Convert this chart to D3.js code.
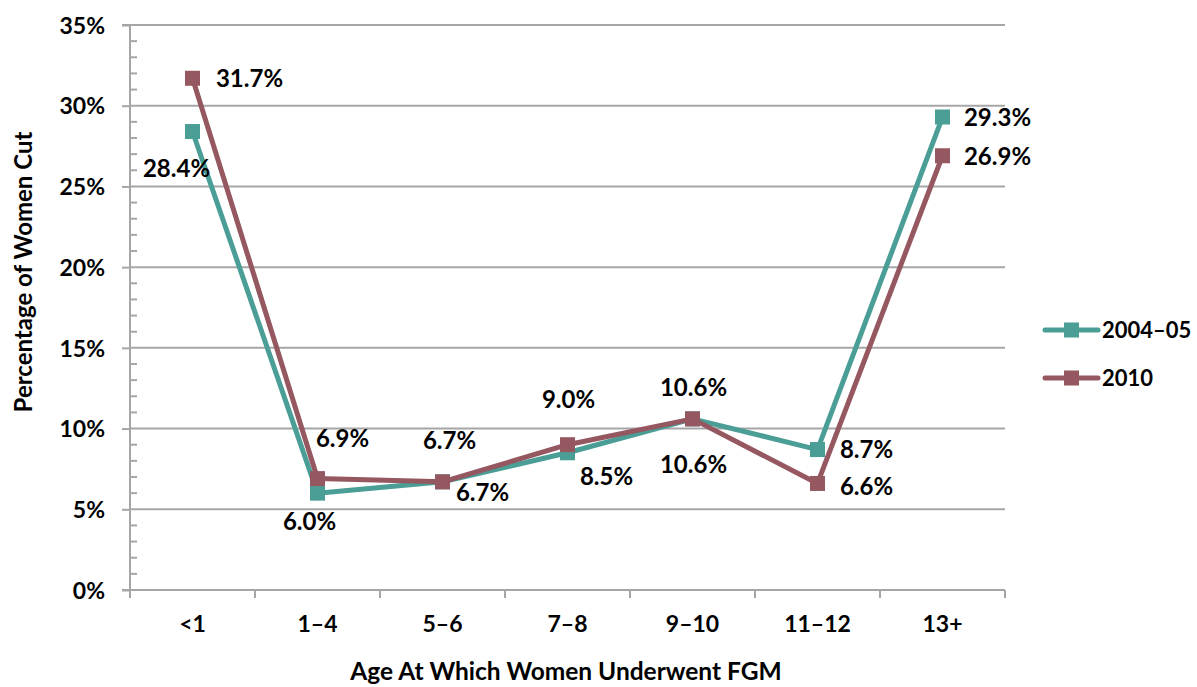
<!DOCTYPE html>
<html><head><meta charset="utf-8">
<script src="https://cdn.jsdelivr.net/npm/d3@7"></script>
<style>body{margin:0;background:#fff;} text{font-family:Lato,"Open Sans",sans-serif;font-weight:bold;fill:#000;}</style>
</head><body>
<svg id="c" width="1197" height="687"></svg>
<script>
const categories = ["<1","1–4","5–6","7–8","9–10","11–12","13+"];
const series2004 = [28.4,6.0,6.7,8.5,10.6,8.7,29.3];
const series2010 = [31.7,6.9,6.7,9.0,10.6,6.6,26.9];
const seriesNames = ["2004–05","2010"];
const yTicks = [0,5,10,15,20,25,30,35];

// label placement offsets (layout only)
const labelOffsets2004 = [[-16,37],[-8,28],[40,11],[39,24],[1,45],[49,0],[55,0]];
const labelOffsets2010 = [[57,0],[25,-40],[7,-41],[1,-45],[1,-32],[49,3],[55,1]];

const colors = ["#4A9E96","#955760"];
const svg = d3.select("#c");
const m = {l:130, r:1005, t:25, b:590};
const x = d3.scaleBand().domain(categories).range([m.l,m.r]).padding(0);
const y = d3.scaleLinear().domain([0,35]).range([m.b,m.t]);
const cx = d => x(d) + x.bandwidth()/2;

// gridlines
svg.append("g").selectAll("line").data(yTicks.filter(t=>t>0)).join("line")
  .attr("x1",m.l).attr("x2",m.r).attr("y1",d=>y(d)).attr("y2",d=>y(d))
  .attr("stroke","#a6a6a6").attr("stroke-width",2);

// minor ticks
svg.append("g").selectAll("line").data(d3.range(0,36).filter(v=>v%5!==0)).join("line")
  .attr("x1",m.l).attr("x2",m.l+7).attr("y1",d=>y(d)).attr("y2",d=>y(d))
  .attr("stroke","#a6a6a6").attr("stroke-width",2);

// y axis
const yAxis = d3.axisLeft(y).tickValues(yTicks).tickFormat(d=>d+"%").tickSize(8).tickPadding(17);
const gy = svg.append("g").attr("transform",`translate(${m.l},0)`).call(yAxis);
gy.select(".domain").attr("stroke","#a6a6a6").attr("stroke-width",2).attr("d",`M-8,${m.t}H0V${m.b}H-8`);
gy.selectAll(".tick line").attr("stroke","#a6a6a6").attr("stroke-width",2);
gy.selectAll(".tick text").style("font-size","23px").style("font-family","Lato").style("font-weight","bold").attr("fill","#000").attr("dy","0.36em");

// x axis
const gx = svg.append("g").attr("transform",`translate(0,${m.b})`);
gx.append("line").attr("x1",m.l).attr("x2",m.r).attr("stroke","#a6a6a6").attr("stroke-width",2);
const bounds = categories.map(c=>x(c)).concat([m.r]);
gx.selectAll("line.t").data(bounds).join("line").attr("class","t")
  .attr("x1",d=>d).attr("x2",d=>d).attr("y1",0).attr("y2",8).attr("stroke","#a6a6a6").attr("stroke-width",2);
gx.selectAll("text").data(categories).join("text")
  .attr("x",d=>cx(d)).attr("y",42).attr("text-anchor","middle").style("font-size","23px").text(d=>d);

// axis titles
svg.append("text").attr("transform","translate(32,272) rotate(-90)").attr("text-anchor","middle")
  .style("font-size","24px").text("Percentage of Women Cut");
svg.append("text").attr("x",566).attr("y",680).attr("text-anchor","middle")
  .style("font-size","24.5px").text("Age At Which Women Underwent FGM");

const allSeries = [series2004, series2010];
const allOffsets = [labelOffsets2004, labelOffsets2010];
const line = d3.line().x((d,i)=>cx(categories[i])).y(d=>y(d));

allSeries.forEach((s,k)=>{
  svg.append("path").datum(s).attr("d",line).attr("fill","none")
    .attr("stroke",colors[k]).attr("stroke-width",5).attr("stroke-linejoin","round");
  svg.append("g").selectAll("rect").data(s).join("rect")
    .attr("x",(d,i)=>cx(categories[i])-7.5).attr("y",d=>y(d)-7.5).attr("width",15).attr("height",15)
    .attr("fill",colors[k]);
});
allSeries.forEach((s,k)=>{
  svg.append("g").selectAll("text").data(s).join("text")
    .attr("x",(d,i)=>cx(categories[i])+allOffsets[k][i][0])
    .attr("y",(d,i)=>y(d)+allOffsets[k][i][1])
    .attr("dy","0.36em").attr("text-anchor","middle").style("font-size","24px")
    .text(d=>d.toFixed(1)+"%");
});

// legend
const lg = svg.append("g");
seriesNames.forEach((n,k)=>{
  const ly = 330 + k*48;
  lg.append("line").attr("x1",1045).attr("x2",1098).attr("y1",ly).attr("y2",ly)
    .attr("stroke",colors[k]).attr("stroke-width",5).attr("stroke-linecap","round");
  lg.append("rect").attr("x",1064).attr("y",ly-7.5).attr("width",15).attr("height",15).attr("fill",colors[k]);
  lg.append("text").attr("x",1102).attr("y",ly).attr("dy","0.36em").style("font-size","22px").text(n);
});
</script>
</body></html>
